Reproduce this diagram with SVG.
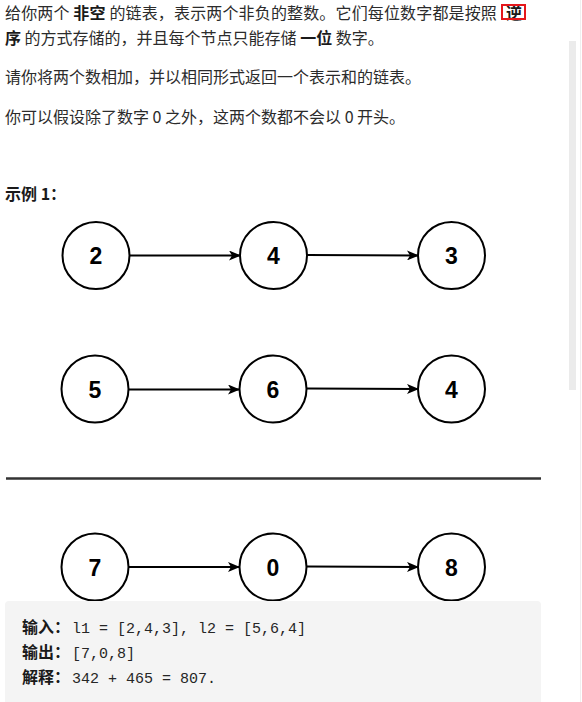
<svg xmlns="http://www.w3.org/2000/svg" width="582" height="702" viewBox="0 0 582 702">
<style>
.t{font-family:"Noto Sans CJK SC","Liberation Sans",sans-serif;font-size:16px;fill:#2b2b2b}
.b{font-weight:700;fill:#1a1a1a}
.n{fill:#fff;stroke:#000;stroke-width:2}
.d{font-family:"Liberation Sans",Arial,sans-serif;font-weight:700;font-size:23px;fill:#000;text-anchor:middle}
.e{stroke:#000;stroke-width:2;fill:none}
.m{font-family:"Liberation Mono","DejaVu Sans Mono",monospace;font-size:15px;fill:#262626}
</style>
<defs>
<marker id="ah" viewBox="0 0 12 10" refX="11" refY="5" markerWidth="12" markerHeight="10" markerUnits="userSpaceOnUse" orient="auto">
<path d="M0,0 L12,5 L0,10 L3,5 Z" fill="#000"/>
</marker>
</defs>
<rect width="582" height="702" fill="#fff"/>
<!-- scrollbar -->
<rect x="569" y="41" width="7" height="349" fill="#ebebeb"/>
<line x1="580.5" y1="0" x2="580.5" y2="702" stroke="#efefef" stroke-width="1"/>

<g id="description">
<text class="t" x="5" y="19" letter-spacing="0.15">给你两个 <tspan class="b">非空</tspan> 的链表，表示两个非负的整数。它们每位数字都是按照<tspan class="b" x="506">逆</tspan></text>
<rect x="502" y="5" width="23" height="14" fill="none" stroke="#e5171b" stroke-width="2"/>
<text class="t" x="5" y="44"><tspan class="b">序</tspan> 的方式存储的，并且每个节点只能存储 <tspan class="b">一位</tspan> 数字。</text>
<text class="t" x="5" y="83">请你将两个数相加，并以相同形式返回一个表示和的链表。</text>
<text class="t" x="5" y="123">你可以假设除了数字 0 之外，这两个数都不会以 0 开头。</text>
<text class="t b" x="5" y="200">示例 1：</text>
</g>

<g id="connectors">
<line class="e" x1="130" y1="255.5" x2="240" y2="255.5" marker-end="url(#ah)"/>
<line class="e" x1="307" y1="255" x2="418" y2="255.5" marker-end="url(#ah)"/>
<line class="e" x1="128" y1="389.5" x2="239" y2="389.5" marker-end="url(#ah)"/>
<line class="e" x1="307" y1="388.5" x2="418" y2="389" marker-end="url(#ah)"/>
<line class="e" x1="128" y1="567" x2="239" y2="567" marker-end="url(#ah)"/>
<line class="e" x1="307" y1="566.5" x2="418" y2="567" marker-end="url(#ah)"/>
</g>

<g id="n2"><circle class="n" cx="96" cy="255.5" r="33.5"/><text class="d" x="96" y="264">2</text></g>
<g id="n4a"><circle class="n" cx="273.5" cy="255.5" r="33.5"/><text class="d" x="273.5" y="264">4</text></g>
<g id="n3"><circle class="n" cx="451.5" cy="255.5" r="33.5"/><text class="d" x="451.5" y="264">3</text></g>

<g id="n5"><circle class="n" cx="95" cy="389" r="33.5"/><text class="d" x="95" y="397.5">5</text></g>
<g id="n6"><circle class="n" cx="273" cy="389" r="33.5"/><text class="d" x="273" y="397.5">6</text></g>
<g id="n4b"><circle class="n" cx="451.5" cy="389" r="33.5"/><text class="d" x="451.5" y="397.5">4</text></g>

<line x1="6" y1="478.5" x2="541" y2="478.5" stroke="#333" stroke-width="2.5"/>

<g id="n7"><circle class="n" cx="95" cy="567" r="33.5"/><text class="d" x="95" y="575.5">7</text></g>
<g id="n0"><circle class="n" cx="273" cy="567" r="33.5"/><text class="d" x="273" y="575.5">0</text></g>
<g id="n8"><circle class="n" cx="451.5" cy="567" r="33.5"/><text class="d" x="451.5" y="575.5">8</text></g>

<g id="codebox">
<rect x="5" y="601" width="536" height="110" rx="4" fill="#f4f4f4"/>
<text class="t b" x="22" y="633">输入：</text><text class="m" x="72" y="633">l1 = [2,4,3], l2 = [5,6,4]</text>
<text class="t b" x="22" y="658">输出：</text><text class="m" x="72" y="658">[7,0,8]</text>
<text class="t b" x="22" y="683">解释：</text><text class="m" x="72" y="683">342 + 465 = 807.</text>
</g>
</svg>
